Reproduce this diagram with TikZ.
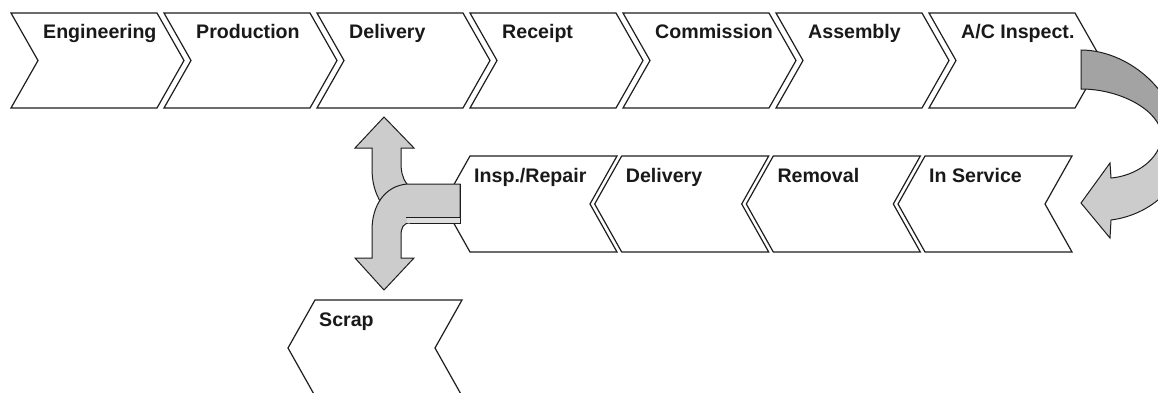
\documentclass[tikz,border=0pt]{standalone}
\usepackage{fontspec}
\setmainfont{Liberation Sans}
\definecolor{lnc}{RGB}{30,30,30}
\definecolor{darkarr}{RGB}{163,163,163}
\definecolor{lightarr}{RGB}{204,204,204}
\definecolor{stripfill}{RGB}{222,222,222}
\tikzset{
  chev/.style={draw=lnc, line width=1.2pt, fill=white, line join=miter},
  lbl/.style={anchor=base west, inner sep=0pt, font=\bfseries\fontsize{19.6}{22}\selectfont, text=black!90},
  darkfill/.style={draw=lnc, line width=1pt, fill=darkarr, line join=miter},
  lightfill/.style={draw=lnc, line width=1pt, fill=lightarr, line join=miter},
}
\newcommand\chevright[3]{%
  \draw[chev] (#2,13) -- ++(146,0) -- ++(27,47.5) -- ++(-27,47.5) -- ++(-146,0) -- ++(27,-47.5) -- cycle;
  \node[lbl] (#1) at (#2+32,38) {#3};}
\newcommand\chevleft[4]{%
  \draw[chev] (#2,#3) -- ++(147,0) -- ++(-27,48) -- ++(27,48) -- ++(-147,0) -- ++(-27,-48) -- cycle;
  \node[lbl] (#1) at (#2+4,#3+26) {#4};}
\begin{document}
\begin{tikzpicture}[x=1pt,y=-1pt]
\useasboundingbox (0,0) rectangle (1158,392);
\clip (0,0) rectangle (1158,392);
\fill[white] (0,0) rectangle (1158,392);
% top row
\chevright{eng}{11}{Engineering}
\chevright{prod}{164}{Production}
\chevright{delivA}{317}{Delivery}
\chevright{rec}{470}{Receipt}
\chevright{comm}{623}{Commission}
\chevright{asm}{776}{Assembly}
\chevright{acin}{929}{A/C Inspect.}
% bottom row
\chevleft{insp}{470}{156}{Insp./Repair}
\chevleft{delivB}{621.7}{156}{Delivery}
\chevleft{remv}{773.3}{156}{Removal}
\chevleft{insv}{925}{156}{In Service}
% scrap
\chevleft{scrap}{315}{300}{Scrap}
% curved arrow (dark upper part)
\draw[darkfill] (1081,50) -- (1081,89) .. controls (1120,89) and (1160,110) .. (1162,136)
  -- (1182,140) .. controls (1170,80) and (1120,50) .. (1081,50) -- cycle;
% curved arrow (light lower part with head)
\draw[lightfill] (1162,136) .. controls (1160,160) and (1135,176) .. (1111,178)
  -- (1110,163) -- (1081,203) -- (1110,238) -- (1111,220)
  .. controls (1150,215) and (1188,185) .. (1182,140) -- cycle;
% branching arrow: up branch
\draw[lightfill] (407,184) .. controls (402,178) and (401,170) .. (401,162) -- (401,148)
  -- (414,148) -- (384,117) -- (355,148) -- (372,148) -- (372,168)
  .. controls (372,188) and (378,198) .. (383,206) -- (396,200) -- cycle;
% branching arrow: stem and down branch
\draw[lightfill] (460,184) -- (407,184) .. controls (385,186) and (372,205) .. (372,230)
  -- (372,258) -- (355,258) -- (384,290) -- (414,258) -- (401,258) -- (401,236)
  .. controls (401,228) and (403,223) .. (410,223) -- (460,223) -- cycle;
\fill[stripfill] (407,217.5) rectangle (459.5,222.5);
\draw[draw=lnc, line width=1pt] (406,217) -- (460,217);
\draw[draw=lnc, line width=1pt] (410,223) -- (460,223) -- (460,184);
\end{tikzpicture}
\end{document}
